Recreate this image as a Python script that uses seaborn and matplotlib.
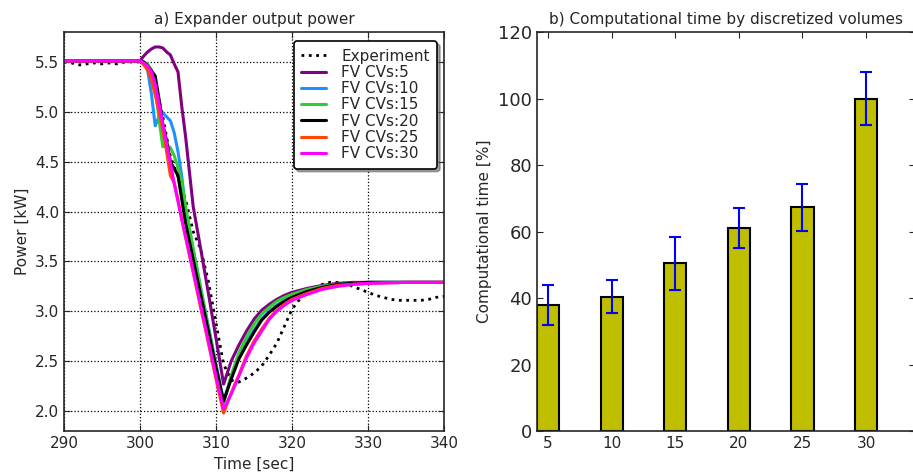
import numpy as np
import pandas as pd
import matplotlib
matplotlib.use("Agg")
import matplotlib.pyplot as plt
import seaborn as sns

# experiment (measured) power
exp_time = [290, 291, 292, 293, 294, 295, 296, 297, 298, 299, 300, 301, 302, 303, 304,
            305, 306, 307, 308, 309, 310, 311, 312, 313, 314, 315, 316, 317, 318, 319,
            320, 321, 322, 323, 324, 325, 326, 327, 328, 329, 330, 331, 332, 333, 334,
            335, 336, 337, 338, 339, 340]
exp_power = [5.50, 5.49, 5.47, 5.48, 5.49, 5.48, 5.49, 5.48, 5.50, 5.50, 5.50, 5.47, 5.30, 4.95, 4.55,
             4.35, 4.12, 3.80, 3.62, 3.30, 2.88, 2.47, 2.31, 2.29, 2.33, 2.38, 2.45, 2.56, 2.68, 2.85,
             3.02, 3.12, 3.20, 3.24, 3.27, 3.29, 3.29, 3.28, 3.25, 3.22, 3.19, 3.16, 3.14, 3.12, 3.11,
             3.11, 3.11, 3.11, 3.12, 3.14, 3.15]

# FV model results
sim_time = [290, 300, 300.5, 301, 301.5, 302, 302.5, 303, 303.5, 304, 304.5, 305, 305.5, 306,
            307, 308, 309, 310, 311, 312, 313, 314, 315, 316, 317, 318, 319, 320,
            322, 324, 326, 328, 330, 335, 340]
cv5 = [5.51, 5.51, 5.56, 5.60, 5.63, 5.65, 5.65, 5.64, 5.60, 5.57, 5.48, 5.40, 5.05, 4.75,
       4.05, 3.62, 3.18, 2.73, 2.27, 2.50, 2.66, 2.80, 2.92, 3.01, 3.07, 3.12, 3.16, 3.19,
       3.23, 3.26, 3.28, 3.29, 3.29, 3.29, 3.29]
cv10 = [5.51, 5.51, 5.49, 5.42, 5.18, 4.86, 4.95, 4.99, 4.95, 4.91, 4.79, 4.60, 4.35, 4.02,
        3.62, 3.23, 2.85, 2.47, 2.10, 2.34, 2.54, 2.69, 2.81, 2.92, 3.00, 3.06, 3.11, 3.15,
        3.21, 3.25, 3.27, 3.28, 3.29, 3.29, 3.29]
cv15 = [5.51, 5.51, 5.50, 5.48, 5.42, 5.24, 4.93, 4.65, 4.67, 4.64, 4.56, 4.44, 4.30, 4.05,
        3.62, 3.22, 2.83, 2.45, 2.08, 2.36, 2.58, 2.74, 2.87, 2.97, 3.04, 3.10, 3.14, 3.17,
        3.22, 3.25, 3.27, 3.28, 3.29, 3.29, 3.29]
cv20 = [5.51, 5.51, 5.50, 5.46, 5.41, 5.36, 5.13, 4.87, 4.71, 4.50, 4.43, 4.36, 4.12, 3.88,
        3.52, 3.16, 2.80, 2.44, 2.10, 2.32, 2.52, 2.66, 2.79, 2.91, 2.99, 3.05, 3.10, 3.14,
        3.20, 3.24, 3.27, 3.28, 3.29, 3.29, 3.29]
cv25 = [5.51, 5.51, 5.47, 5.42, 5.32, 5.17, 5.00, 4.82, 4.60, 4.36, 4.29, 4.12, 3.92, 3.74,
        3.39, 3.03, 2.68, 2.32, 1.98, 2.18, 2.36, 2.55, 2.70, 2.82, 2.93, 3.01, 3.07, 3.12,
        3.18, 3.23, 3.26, 3.27, 3.28, 3.29, 3.29]
cv30 = [5.51, 5.51, 5.49, 5.46, 5.40, 5.28, 5.08, 4.88, 4.68, 4.49, 4.28, 4.10, 3.92, 3.75,
        3.40, 3.05, 2.70, 2.35, 2.02, 2.17, 2.35, 2.53, 2.68, 2.80, 2.92, 3.00, 3.06, 3.11,
        3.17, 3.22, 3.25, 3.27, 3.28, 3.29, 3.29]

series = [("FV CVs:5", cv5, "purple"),
          ("FV CVs:10", cv10, "#1E90FF"),
          ("FV CVs:15", cv15, "#32CD32"),
          ("FV CVs:20", cv20, "black"),
          ("FV CVs:25", cv25, "#FF4500"),
          ("FV CVs:30", cv30, "magenta")]

# computational time
n_cvs = [5, 10, 15, 20, 25, 30]
comp_time = [37.9, 40.4, 50.4, 61.0, 67.3, 100.0]
comp_err = [6.0, 5.0, 8.0, 6.0, 7.0, 8.0]

sns.set_style("ticks")
plt.rcParams['font.family'] = ['DejaVu Sans']
plt.rcParams['xtick.direction'] = 'in'
plt.rcParams['ytick.direction'] = 'in'
plt.rcParams['xtick.top'] = True
plt.rcParams['ytick.right'] = True
plt.rcParams['xtick.major.size'] = 4
plt.rcParams['ytick.major.size'] = 4

fig = plt.figure(figsize=(9.13, 4.75), dpi=100)
ax1 = fig.add_axes([64 / 913, 44 / 475, 380 / 913, 399 / 475])
ax2 = fig.add_axes([537 / 913, 44 / 475, 378 / 913, 399 / 475])

sns.lineplot(x=exp_time, y=exp_power, ax=ax1, color="black", linestyle=":",
             linewidth=2, label="Experiment")
for name, vals, col in series:
    sns.lineplot(x=sim_time, y=vals, ax=ax1, color=col, linewidth=2.2, label=name)

ax1.set_xlim(290, 340)
ax1.set_ylim(1.8, 5.8)
ax1.set_xticks(np.arange(290, 341, 10))
ax1.set_yticks(np.arange(2.0, 5.51, 0.5))
ax1.yaxis.set_major_formatter(matplotlib.ticker.FormatStrFormatter('%.1f'))
ax1.grid(True, linestyle=':', color='black', linewidth=0.9)
ax1.tick_params(labelsize=11)
ax1.set_xlabel("Time [sec]", fontsize=11)
ax1.set_ylabel("Power [kW]", fontsize=11)
ax1.set_title("a) Expander output power", fontsize=11)
leg = ax1.legend(loc="upper right", fontsize=11, fancybox=True, shadow=True,
                 labelspacing=0.08, handlelength=1.6, handletextpad=1.0,
                 borderpad=0.5, borderaxespad=0, framealpha=1,
                 bbox_to_anchor=(0.982, 0.977))
leg.get_frame().set_edgecolor("black")
leg.get_frame().set_linewidth(1.2)
for sp in ax1.spines.values():
    sp.set_linewidth(1.2)

sns.barplot(x=n_cvs, y=comp_time, ax=ax2, native_scale=True, width=0.35,
            color=(0.75, 0.75, 0), saturation=1, edgecolor="black", linewidth=1.5,
            errorbar=None)
ax2.errorbar(n_cvs, comp_time, yerr=comp_err, fmt="none", ecolor="blue",
             elinewidth=1.5, capsize=4, capthick=1.5)
ax2.set_xlim(4.125, 33.85)
ax2.set_ylim(0, 120)
ax2.set_xticks(n_cvs)
ax2.set_yticks(np.arange(0, 121, 20))
ax2.tick_params(axis="x", labelsize=11)
ax2.tick_params(axis="y", labelsize=13)
ax2.set_ylabel("Computational time [%]", fontsize=11)
ax2.set_title("b) Computational time by discretized volumes", fontsize=11)
for sp in ax2.spines.values():
    sp.set_linewidth(1.2)

fig.savefig("out.png", dpi=100)
